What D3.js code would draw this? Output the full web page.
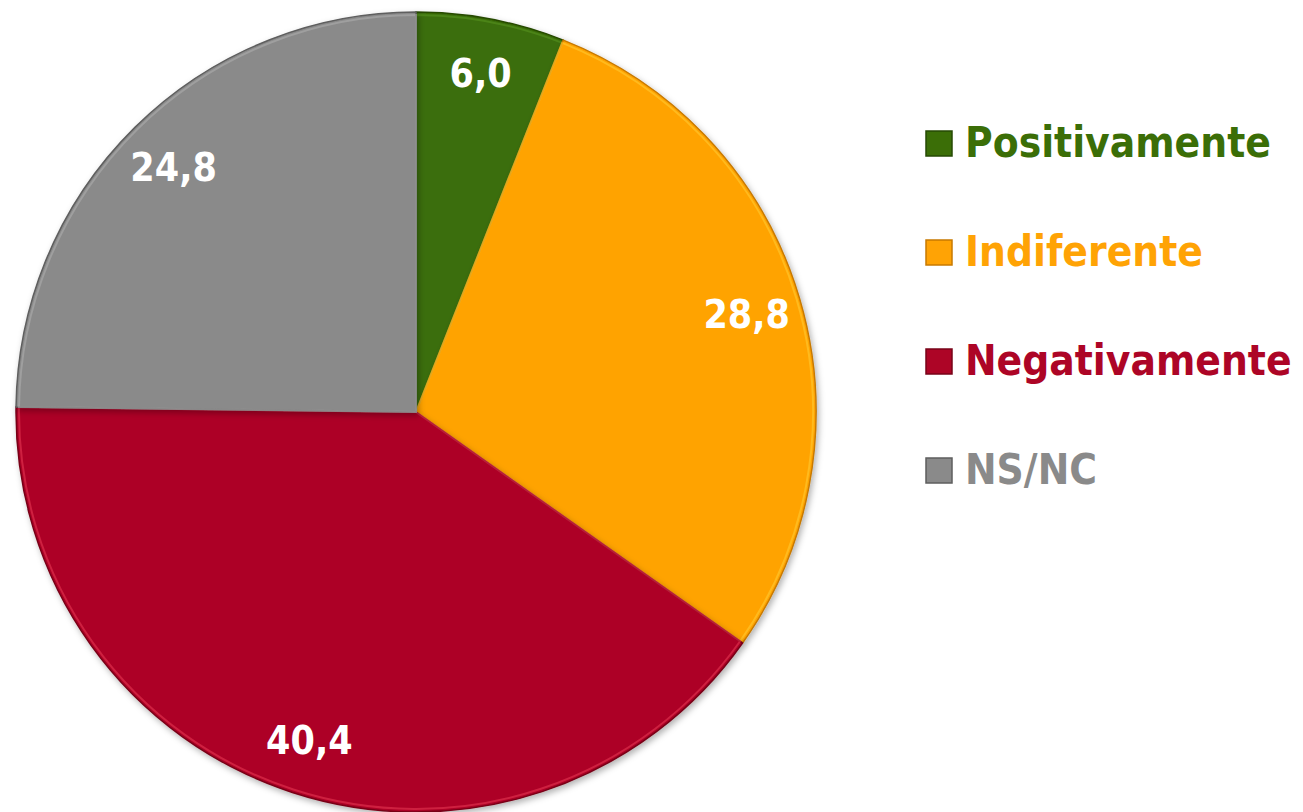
<!DOCTYPE html>
<html>
  <head>
    <meta charset="utf-8">
    <title>Pie</title>
    <script src="https://cdn.jsdelivr.net/npm/d3@7"></script>
    <style>
      body { margin: 0; background: #fff; }
      svg text { font-family: "DejaVu Sans Condensed", "DejaVu Sans", sans-serif; font-weight: bold; }
    </style>
  </head>
  <body>
    <svg id="chart" width="1303" height="812"></svg>
    <script>
      // data
      const categories = ["Positivamente", "Indiferente", "Negativamente", "NS/NC"];
      const values = [6.0, 28.8, 40.4, 24.8];
      const labels = ["6,0", "28,8", "40,4", "24,8"];
      const colours = ["#3b6e07", "#ffa305", "#ad0526", "#8a8a8a"];
      const lightColours = ["#5c9a22", "#ffd23a", "#f0405a", "#b4b4b4"];
      const darkColours = ["#264a04", "#c87a00", "#780318", "#5e5e5e"];

      const svg = d3.select("#chart");
      const cx = 416, cy = 412, radius = 400;

      const defs = svg.append("defs");
      const shadow = defs.append("filter")
        .attr("id", "shadow")
        .attr("x", "-10%").attr("y", "-10%")
        .attr("width", "120%").attr("height", "120%");
      shadow.append("feDropShadow")
        .attr("dx", 2).attr("dy", 3)
        .attr("stdDeviation", 3)
        .attr("flood-color", "#000")
        .attr("flood-opacity", 0.3);

      const pie = d3.pie().sort(null).value(d => d);
      const arcs = pie(values);
      const arc = d3.arc().innerRadius(0).outerRadius(radius);
      const bevel = d3.arc().innerRadius(0).outerRadius(radius - 3);
      const labelArc = d3.arc().innerRadius(345).outerRadius(345);

      const g = svg.append("g")
        .attr("transform", `translate(${cx},${cy})`);

      const slices = g.selectAll("g.slice")
        .data(arcs)
        .join("g")
          .attr("class", "slice");

      slices.append("path")
        .attr("d", arc)
        .attr("fill", (d, i) => colours[i])
        .attr("stroke", (d, i) => darkColours[i])
        .attr("stroke-width", 1.5)
        .attr("filter", "url(#shadow)");

      // thin highlight for the bevel look
      slices.append("path")
        .attr("d", bevel)
        .attr("fill", "none")
        .attr("stroke", (d, i) => lightColours[i])
        .attr("stroke-opacity", 0.5)
        .attr("stroke-width", 2);

      g.selectAll("text.label")
        .data(arcs)
        .join("text")
          .attr("class", "label")
          .attr("transform", d => `translate(${labelArc.centroid(d)})`)
          .attr("text-anchor", "middle")
          .attr("dy", "0.36em")
          .attr("fill", "#fff")
          .style("font-size", "39px")
          .text((d, i) => labels[i]);

      // legend
      const y = d3.scalePoint()
        .domain(categories)
        .range([157, 484]);

      const legend = svg.append("g");
      const items = legend.selectAll("g")
        .data(categories)
        .join("g")
          .attr("transform", d => `translate(926,${y(d)})`);

      items.append("rect")
        .attr("x", 0)
        .attr("y", -26)
        .attr("width", 26)
        .attr("height", 25)
        .attr("fill", (d, i) => colours[i])
        .attr("stroke", (d, i) => darkColours[i])
        .attr("stroke-width", 1.5);

      items.append("text")
        .attr("x", 39)
        .attr("y", 0)
        .attr("fill", (d, i) => colours[i])
        .style("font-size", "42px")
        .text(d => d);
    </script>
  </body>
</html>
